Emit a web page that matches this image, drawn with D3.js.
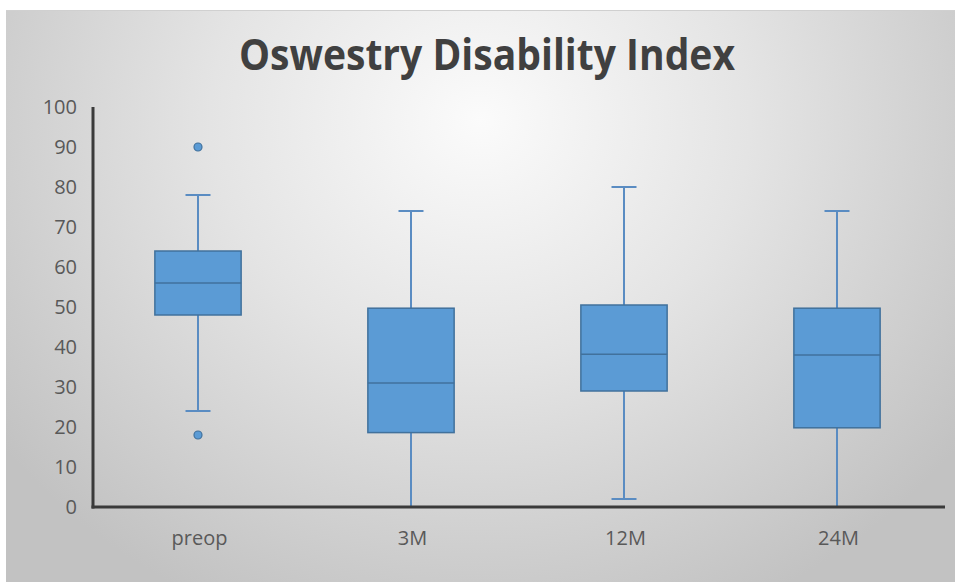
<!DOCTYPE html>
<html>
<head>
<meta charset="utf-8">
<script src="https://cdn.jsdelivr.net/npm/d3@7"></script>
<style>
  html, body { margin: 0; padding: 0; background: #ffffff; }
  svg { display: block; }
</style>
</head>
<body>
<svg id="chart" width="955" height="582"></svg>
<script>
// Oswestry Disability Index by follow-up visit
const categories = ["preop", "3M", "12M", "24M"];
const whiskerLow  = [24, 0, 2, 0];
const q1          = [48, 18.6, 29, 19.8];
const medians     = [56, 31, 38.2, 38];
const q3          = [64, 49.7, 50.5, 49.7];
const whiskerHigh = [78, 74, 80, 74];
const outliers    = [[90, 18], [], [], []];
const yTicks      = [0, 10, 20, 30, 40, 50, 60, 70, 80, 90, 100];
const title       = "Oswestry Disability Index";

const svg = d3.select("#chart");
const W = 955, H = 582;
const font = "'Open Sans', 'Liberation Sans', sans-serif";

// panel background with a soft radial light from the top centre
const defs = svg.append("defs");
const grad = defs.append("radialGradient")
  .attr("id", "bg").attr("gradientUnits", "userSpaceOnUse")
  .attr("cx", 480).attr("cy", 120).attr("r", 600)
  .attr("gradientTransform", "translate(480,120) scale(1,0.9) translate(-480,-120)");
grad.append("stop").attr("offset", 0).attr("stop-color", "#fbfbfb");
grad.append("stop").attr("offset", 0.45).attr("stop-color", "#e4e4e4");
grad.append("stop").attr("offset", 1).attr("stop-color", "#c2c2c2");

svg.append("rect").attr("x", 6).attr("y", 10).attr("width", W - 6).attr("height", H - 10)
  .attr("fill", "url(#bg)");
svg.append("line").attr("x1", 6).attr("x2", W).attr("y1", 10.5).attr("y2", 10.5)
  .attr("stroke", "#d0d0d0").attr("stroke-width", 1);

const plot = { left: 93, right: 945, top: 107, bottom: 507 };

const x = d3.scaleBand().domain(categories).range([plot.left, plot.right]).padding(0);
const y = d3.scaleLinear().domain([0, 100]).range([plot.bottom, plot.top]);

// title
svg.append("text")
  .attr("x", 487).attr("y", 70)
  .attr("text-anchor", "middle")
  .attr("font-family", font)
  .attr("font-weight", 700)
  .attr("font-size", 43)
  .attr("fill", "#404040")
  .attr("textLength", 496)
  .attr("lengthAdjust", "spacingAndGlyphs")
  .text(title);

// y axis
const yAxis = d3.axisLeft(y).tickValues(yTicks).tickSize(0).tickPadding(16);
const gy = svg.append("g").attr("transform", `translate(${plot.left},0)`).call(yAxis);
gy.select(".domain").remove();
gy.selectAll("text")
  .attr("font-family", font)
  .attr("font-size", 20)
  .attr("fill", "#595959");

// x axis
const xAxis = d3.axisBottom(x).tickSize(0).tickPadding(24);
const gx = svg.append("g").attr("transform", `translate(0,${plot.bottom})`).call(xAxis);
gx.select(".domain").remove();
gx.selectAll("text")
  .attr("font-family", font)
  .attr("font-size", 20)
  .attr("fill", "#595959");

// boxes
const boxW = x.bandwidth() * 0.405;
const capW = 25;
const fill = "#5b9bd5";
const stroke = "#41719c";
const whiskerColor = "#5a8cc2";

const data = categories.map((c, i) => ({
  c, lo: whiskerLow[i], q1: q1[i], med: medians[i], q3: q3[i], hi: whiskerHigh[i], out: outliers[i]
}));

const g = svg.append("g");
data.forEach(d => {
  const cx = x(d.c) + x.bandwidth() / 2 - 1.5;
  const grp = g.append("g");
  // whiskers
  grp.append("line").attr("x1", cx).attr("x2", cx).attr("y1", y(d.q3)).attr("y2", y(d.hi))
    .attr("stroke", whiskerColor).attr("stroke-width", 2);
  grp.append("line").attr("x1", cx).attr("x2", cx).attr("y1", y(d.q1)).attr("y2", y(d.lo))
    .attr("stroke", whiskerColor).attr("stroke-width", 2);
  grp.append("line").attr("x1", cx - capW / 2).attr("x2", cx + capW / 2)
    .attr("y1", y(d.hi)).attr("y2", y(d.hi))
    .attr("stroke", whiskerColor).attr("stroke-width", 2);
  grp.append("line").attr("x1", cx - capW / 2).attr("x2", cx + capW / 2)
    .attr("y1", y(d.lo)).attr("y2", y(d.lo))
    .attr("stroke", whiskerColor).attr("stroke-width", 2);
  // box
  grp.append("rect")
    .attr("x", cx - boxW / 2).attr("width", boxW)
    .attr("y", y(d.q3)).attr("height", y(d.q1) - y(d.q3))
    .attr("fill", fill).attr("stroke", stroke).attr("stroke-width", 1.5);
  grp.append("line").attr("x1", cx - boxW / 2).attr("x2", cx + boxW / 2)
    .attr("y1", y(d.med)).attr("y2", y(d.med))
    .attr("stroke", stroke).attr("stroke-width", 1.5);
  // outliers
  d.out.forEach(v => {
    grp.append("circle").attr("cx", cx).attr("cy", y(v)).attr("r", 4)
      .attr("fill", fill).attr("stroke", stroke).attr("stroke-width", 1.2);
  });
});

// axis lines drawn last so they sit above the whisker ends
svg.append("line").attr("x1", plot.left).attr("x2", plot.left)
  .attr("y1", plot.top).attr("y2", plot.bottom + 1.5)
  .attr("stroke", "#3a3a3a").attr("stroke-width", 3);
svg.append("line").attr("x1", plot.left - 1.5).attr("x2", plot.right)
  .attr("y1", plot.bottom).attr("y2", plot.bottom)
  .attr("stroke", "#3a3a3a").attr("stroke-width", 3);
</script>
</body>
</html>
